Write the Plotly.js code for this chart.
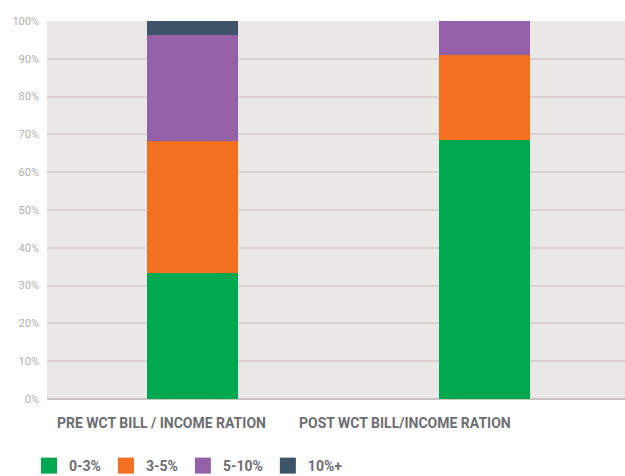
<!DOCTYPE html>
<html>
<head>
<meta charset="utf-8">
<script src="https://cdn.plot.ly/plotly-3.0.1.min.js"></script>
<style>
html,body{margin:0;padding:0;background:#fff;overflow:hidden;}
#chart{width:630px;height:476px;}
</style>
</head>
<body>
<div id="chart"></div>
<script>
const categories = ["PRE WCT BILL / INCOME RATION", "POST WCT BILL/INCOME RATION"];
const seriesNames = ["0-3%", "3-5%", "5-10%", "10%+"];
const share0to3 = [33.4, 68.6];
const share3to5 = [34.8, 22.5];
const share5to10 = [28.2, 8.9];
const share10plus = [3.6, 0];
const yTickVals = [0, 10, 20, 30, 40, 50, 60, 70, 80, 90, 100];
const yTickText = ["0%", "10%", "20%", "30%", "40%", "50%", "60%", "70%", "80%", "90%", "100%"];

const colors = ["#00a84f", "#f37021", "#9460a8", "#3d5468"];
const seriesValues = [share0to3, share3to5, share5to10, share10plus];

const traces = [];
seriesValues.forEach((vals, i) => {
  traces.push({
    type: "bar",
    x: categories,
    y: vals,
    name: seriesNames[i],
    marker: {color: colors[i], line: {width: 0}},
    showlegend: false,
    hoverinfo: "skip"
  });
});
seriesValues.forEach((vals, i) => {
  traces.push({
    type: "scatter",
    mode: "markers",
    x: [null],
    y: [null],
    name: seriesNames[i],
    marker: {symbol: "square", size: 16, color: colors[i]},
    showlegend: true,
    hoverinfo: "skip"
  });
});

const labelShift = [-31, -79];
const annotations = categories.map((c, i) => ({
  x: c, xref: "x", y: 0, yref: "paper", yanchor: "top",
  yshift: -14, xshift: labelShift[i],
  text: c, showarrow: false,
  font: {family: "Roboto, 'Open Sans', sans-serif", size: 14, color: "#6d6e71", weight: 700}
}));

const layout = {
  width: 630, height: 476,
  margin: {l: 47, r: 0, t: 21, b: 77},
  paper_bgcolor: "#ffffff",
  plot_bgcolor: "#ebe9e7",
  barmode: "stack",
  bargap: 0.688,
  font: {family: "Roboto, 'Open Sans', sans-serif"},
  xaxis: {
    type: "category",
    showticklabels: false,
    showgrid: false, zeroline: false, ticks: "",
    fixedrange: true
  },
  yaxis: {
    range: [0, 100],
    tickvals: yTickVals, ticktext: yTickText,
    showgrid: true, gridcolor: "#d8d1d0", gridwidth: 2,
    zeroline: true, zerolinecolor: "#c9c3c1", zerolinewidth: 2,
    ticks: "", ticklabelstandoff: 7,
    tickfont: {family: "Roboto, 'Open Sans', sans-serif", size: 11, color: "#b0b0b0"},
    fixedrange: true
  },
  showlegend: true,
  legend: {
    orientation: "h",
    traceorder: "normal",
    xref: "container", yref: "container",
    x: 29/630, xanchor: "left",
    y: 10/476, yanchor: "middle",
    font: {family: "Roboto, 'Open Sans', sans-serif", size: 14, color: "#6d6e71", weight: 700},
    bgcolor: "rgba(0,0,0,0)",
    itemclick: false, itemdoubleclick: false
  },
  annotations: annotations
};

Plotly.newPlot("chart", traces, layout, {displayModeBar: false, staticPlot: true});
</script>
</body>
</html>
